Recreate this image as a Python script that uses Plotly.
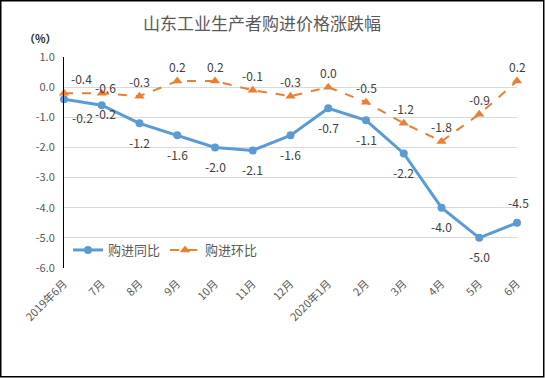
import plotly.graph_objects as go

categories = ["2019年6月", "7月", "8月", "9月", "10月", "11月", "12月",
              "2020年1月", "2月", "3月", "4月", "5月", "6月"]
yoy_values = [-0.4, -0.6, -1.2, -1.6, -2.0, -2.1, -1.6, -0.7, -1.1, -2.2, -4.0, -5.0, -4.5]
mom_values = [-0.2, -0.2, -0.3, 0.2, 0.2, -0.1, -0.3, 0.0, -0.5, -1.2, -1.8, -0.9, 0.2]
yoy_labels = ["-0.2", "-0.2", "-1.2", "-1.6", "-2.0", "-2.1", "-1.6", "-0.7", "-1.1", "-2.2", "-4.0", "-5.0", "-4.5"]
mom_labels = ["-0.4", "-0.6", "-0.3", "0.2", "0.2", "-0.1", "-0.3", "0.0", "-0.5", "-1.2", "-1.8", "-0.9", "0.2"]
y_ticks = [1.0, 0.0, -1.0, -2.0, -3.0, -4.0, -5.0, -6.0]

W, H = 545, 378
ML, MR, MT, MB = 64, 28, 57, 110
PW, PH = W - ML - MR, H - MT - MB

def px_x(px):
    return (px - ML) / PW

def px_y(py):
    return (H - MB - py) / PH

BLUE = "#5B9BD5"
ORANGE = "#ED7D31"
FONT = "Noto Sans CJK SC, Noto Sans, sans-serif"

fig = go.Figure()
fig.add_trace(go.Scatter(
    x=list(range(len(categories))), y=yoy_values, name="购进同比",
    mode="lines+markers", line=dict(color=BLUE, width=3),
    marker=dict(symbol="circle", size=8, color=BLUE), cliponaxis=False))
fig.add_trace(go.Scatter(
    x=list(range(len(categories))), y=mom_values, name="购进环比",
    mode="lines+markers", line=dict(color=ORANGE, width=2, dash="dash"),
    marker=dict(symbol="triangle-up", size=9, color=ORANGE), cliponaxis=False))

# label offsets (pixels), styles only
yoy_shift = {0: (18, -18), 1: (4, -8), 12: (1, 20)}
mom_shift = {0: (17, 15), 1: (4, 6)}

annotations = []
for i, (v, t) in enumerate(zip(yoy_values, yoy_labels)):
    xs, ys = yoy_shift.get(i, (0, -19))
    annotations.append(dict(x=i, y=v, text=t, showarrow=False, xshift=xs, yshift=ys,
                            font=dict(size=12, color="#404040", family=FONT)))
for i, (v, t) in enumerate(zip(mom_values, mom_labels)):
    xs, ys = mom_shift.get(i, (0, 15))
    annotations.append(dict(x=i, y=v, text=t, showarrow=False, xshift=xs, yshift=ys,
                            font=dict(size=12, color="#404040", family=FONT)))

annotations.append(dict(text="山东工业生产者购进价格涨跌幅", xref="paper", yref="paper",
                        x=px_x(262), y=px_y(23), showarrow=False,
                        xanchor="center", yanchor="middle",
                        font=dict(size=17, color="#595959", family=FONT)))
annotations.append(dict(text="<b>（%）</b>", xref="paper", yref="paper",
                        x=px_x(40), y=px_y(38), showarrow=False,
                        xanchor="center", yanchor="middle",
                        font=dict(size=11, color="#262626", family=FONT)))

shapes = [dict(type="rect", xref="paper", yref="paper",
               x0=px_x(0.75), x1=px_x(W - 1.25),
               y0=px_y(H - 1.25), y1=px_y(0.75),
               line=dict(color="black", width=1.5), fillcolor="rgba(0,0,0,0)", layer="above")]

fig.update_layout(
    width=W, height=H,
    margin=dict(l=ML, r=MR, t=MT, b=MB, autoexpand=False),
    paper_bgcolor="white", plot_bgcolor="white",
    font=dict(family=FONT, color="#595959"),
    showlegend=True,
    legend=dict(orientation="h", x=px_x(68), y=px_y(250),
                xanchor="left", yanchor="middle", bgcolor="rgba(0,0,0,0)",
                font=dict(size=13, color="#595959", family=FONT),
                itemwidth=30, tracegroupgap=0),
    annotations=annotations,
    shapes=shapes,
    xaxis=dict(range=[0, len(categories) - 1], tickmode="array",
               tickvals=list(range(len(categories))), ticktext=categories,
               tickangle=-45, tickfont=dict(size=11, color="#595959", family=FONT),
               showgrid=False, zeroline=False, showline=False,
               ticks="outside", ticklen=4, tickcolor="rgba(0,0,0,0)", automargin=False),
    yaxis=dict(range=[-6, 1], tickmode="array", tickvals=y_ticks,
               ticktext=[f"{v:.1f}" for v in y_ticks],
               tickfont=dict(size=11, color="#595959", family=FONT),
               showgrid=True, gridcolor="#D9D9D9", gridwidth=1,
               zeroline=False, showline=True, linecolor="black", linewidth=1,
               ticks="outside", ticklen=6, tickcolor="rgba(0,0,0,0)", automargin=False),
)

fig.write_html("out.html", config={"displayModeBar": False},
               post_script="document.body.style.margin='0';document.body.style.overflow='hidden';")
